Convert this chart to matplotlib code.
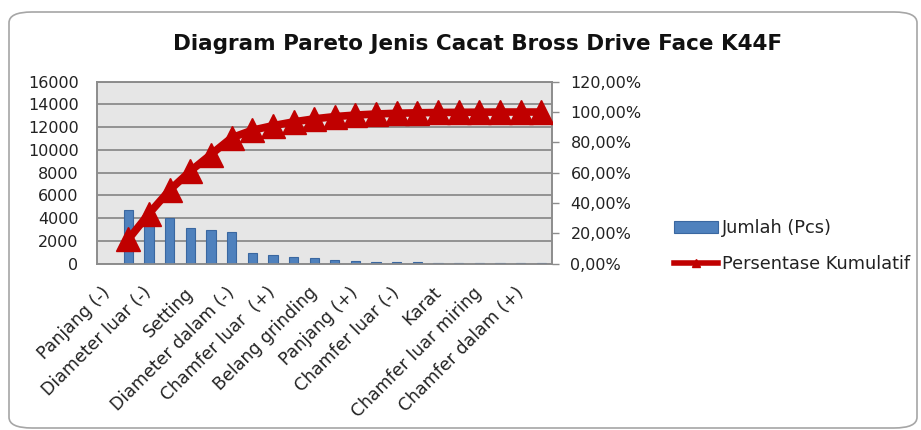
import numpy as np
import matplotlib
matplotlib.use("Agg")
import matplotlib.pyplot as plt
from matplotlib.patches import FancyBboxPatch, Patch
from matplotlib.lines import Line2D
from matplotlib.ticker import FuncFormatter

# labels shown on the category axis (every other slot)
tick_labels = ["Panjang (-)", "Diameter luar (-)", "Setting", "Diameter dalam (-)",
               "Chamfer luar  (+)", "Belang grinding", "Panjang (+)", "Chamfer luar (-)",
               "Karat", "Chamfer luar miring", "Chamfer dalam (+)"]

# jumlah cacat (pcs) per slot 1..21
jumlah = [4750, 4300, 4000, 3150, 3000, 2800, 920, 800, 570, 530, 330,
          210, 150, 150, 150, 90, 90, 60, 60, 60, 60]

# persentase kumulatif (%)
kumulatif = [16.0, 33.0, 48.5, 61.0, 72.0, 83.0, 88.0, 91.0, 93.5, 95.5, 97.0,
             98.0, 98.7, 99.2, 99.5, 99.7, 99.8, 99.9, 100.0, 100.0, 100.0]

blue = "#4F81BD"
red = "#C00000"
grid_c = "#8C8C8C"

fig = plt.figure(figsize=(9.21, 4.30), dpi=100)

border = FancyBboxPatch((9 / 921, 2 / 430), 908 / 921, 416 / 430,
                        boxstyle="round,pad=0,rounding_size=0.025",
                        transform=fig.transFigure, facecolor="none",
                        edgecolor="#A6A6A6", linewidth=1.2, zorder=-1)
fig.patches.append(border)

ax = fig.add_axes([97.3 / 921, 1 - 263.7 / 430, 454.4 / 921, 182 / 430])
ax.set_facecolor("#E6E6E6")

x = np.arange(1, len(jumlah) + 1)
ax.bar(x, jumlah, width=0.45, color=blue, edgecolor="#3A67A0", linewidth=0.8, zorder=3)

ax.set_xlim(-0.5, 21.5)
ax.set_ylim(0, 16000)
ax.set_yticks(np.arange(0, 16001, 2000))
ax.yaxis.grid(True, color=grid_c, linewidth=1.3, zorder=1)
ax.set_axisbelow(True)
ax.set_xticks(np.arange(0, 22, 2))
ax.set_xticklabels(tick_labels, rotation=45, ha="right", va="center",
                   rotation_mode="anchor", fontsize=12.5, color="#222222")
ax.tick_params(axis="x", length=0, pad=19)
ax.tick_params(axis="y", length=0, pad=13.5, labelsize=11.5, labelcolor="#222222")
for s in ax.spines.values():
    s.set_color(grid_c)
    s.set_linewidth(1.2)

ax2 = ax.twinx()
ax2.plot(x, kumulatif, color=red, linewidth=5.5, marker="^", markersize=17,
         markeredgecolor=red, zorder=4)
ax2.set_ylim(0, 120)
ax2.set_yticks(np.arange(0, 121, 20))
ax2.yaxis.set_major_formatter(FuncFormatter(lambda v, p: f"{v:.2f}%".replace(".", ",")))
ax2.tick_params(axis="y", length=5, width=1, color=grid_c, pad=8.5,
                labelsize=11.5, labelcolor="#222222")
for s in ax2.spines.values():
    s.set_color(grid_c)
    s.set_linewidth(1.2)

fig.text(0.518, 1 - 44 / 430, "Diagram Pareto Jenis Cacat Bross Drive Face K44F",
         ha="center", va="center", fontsize=15.5, fontweight="bold", color="#111111")

handles = [Patch(facecolor=blue, edgecolor="#3A67A0", linewidth=0.8),
           Line2D([0], [0], color=red, linewidth=4, marker="^", markersize=6,
                  markeredgecolor=red)]
fig.legend(handles, ["Jumlah (Pcs)", "Persentase Kumulatif"],
           loc="center left", bbox_to_anchor=(658 / 921, 1 - 246 / 430),
           frameon=False, fontsize=12.8, handlelength=2.5, handleheight=0.65,
           handletextpad=0.2, labelspacing=1.0, labelcolor="#222222")

fig.savefig("out.png", dpi=100)
